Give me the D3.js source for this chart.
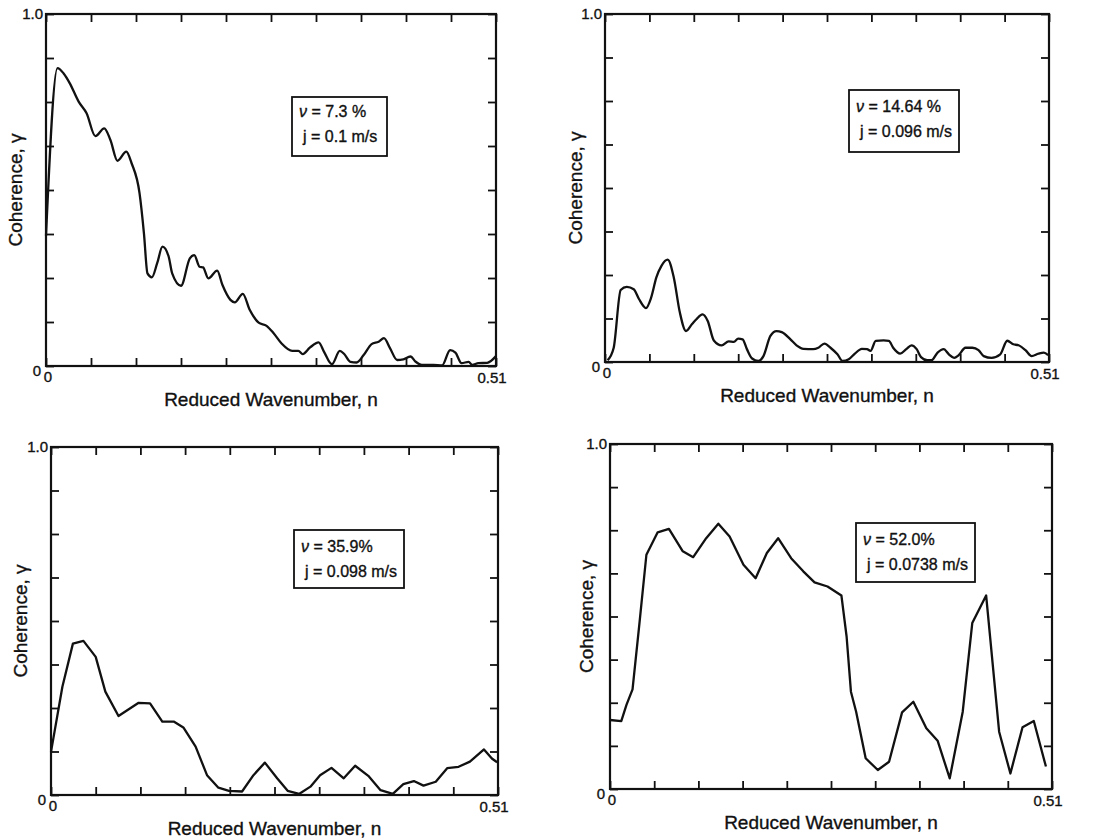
<!DOCTYPE html>
<html>
<head>
<meta charset="utf-8">
<script src="https://cdn.jsdelivr.net/npm/d3@7"></script>
<style>
  body { margin: 0; background: #fff; }
  svg { display: block; font-family: "Liberation Sans", Arial, sans-serif; }
  svg text { stroke: #111; stroke-width: 0.35px; }
</style>
</head>
<body>
<svg id="chart" width="1109" height="839"></svg>
<script>
// Coherence vs reduced wavenumber
const n1 = [0, 0.013, 0.020, 0.027, 0.037, 0.046, 0.056, 0.066, 0.073, 0.081, 0.091, 0.097, 0.106, 0.111, 0.115, 0.120,
  0.126, 0.132, 0.139, 0.143, 0.153, 0.163, 0.168, 0.174, 0.178, 0.184, 0.194, 0.200, 0.209, 0.214, 0.223, 0.231,
  0.241, 0.250, 0.258, 0.267, 0.279, 0.286, 0.291, 0.299, 0.309, 0.315, 0.324, 0.333, 0.338, 0.345, 0.352, 0.360,
  0.369, 0.377, 0.383, 0.390, 0.398, 0.405, 0.413, 0.419, 0.426, 0.439, 0.449, 0.458, 0.464, 0.471, 0.479, 0.483,
  0.490, 0.500, 0.510];
const coh1 = [0.37, 0.846, 0.831, 0.803, 0.751, 0.718, 0.653, 0.675, 0.642, 0.583, 0.609, 0.576, 0.491, 0.377, 0.263, 0.252,
  0.292, 0.339, 0.311, 0.263, 0.228, 0.306, 0.315, 0.282, 0.280, 0.249, 0.271, 0.230, 0.188, 0.181, 0.205, 0.159,
  0.123, 0.114, 0.093, 0.064, 0.043, 0.043, 0.034, 0.052, 0.067, 0.041, 0.005, 0.043, 0.034, 0.012, 0.010, 0.031,
  0.062, 0.069, 0.079, 0.050, 0.017, 0.019, 0.027, 0.012, 0.003, 0.003, 0.002, 0.045, 0.038, 0.008, 0.012, 0.003,
  0.008, 0.009, 0.028];

const n2 = [0.003, 0.010, 0.018, 0.025, 0.033, 0.039, 0.047, 0.053, 0.059, 0.065, 0.072, 0.079, 0.086, 0.093, 0.100, 0.105,
  0.112, 0.118, 0.125, 0.134, 0.142, 0.148, 0.153, 0.158, 0.163, 0.169, 0.176, 0.182, 0.190, 0.197, 0.203, 0.213,
  0.220, 0.228, 0.239, 0.245, 0.252, 0.259, 0.267, 0.273, 0.280, 0.287, 0.295, 0.301, 0.305, 0.311, 0.320, 0.326,
  0.331, 0.339, 0.346, 0.352, 0.358, 0.363, 0.370, 0.375, 0.382, 0.389, 0.395, 0.401, 0.406, 0.414, 0.422, 0.429,
  0.435, 0.444, 0.454, 0.462, 0.469, 0.475, 0.483, 0.490, 0.498, 0.504, 0.509];
const coh2 = [0.005, 0.041, 0.207, 0.216, 0.209, 0.181, 0.155, 0.185, 0.243, 0.277, 0.294, 0.243, 0.142, 0.089, 0.109, 0.123,
  0.137, 0.118, 0.062, 0.048, 0.059, 0.058, 0.067, 0.065, 0.037, 0.010, 0.003, 0.017, 0.075, 0.089, 0.086, 0.065,
  0.048, 0.038, 0.037, 0.041, 0.053, 0.041, 0.022, 0.003, 0.008, 0.024, 0.038, 0.037, 0.032, 0.061, 0.062, 0.061,
  0.041, 0.024, 0.037, 0.048, 0.037, 0.014, 0.005, 0.005, 0.027, 0.037, 0.022, 0.012, 0.019, 0.041, 0.041, 0.034,
  0.017, 0.012, 0.022, 0.061, 0.051, 0.048, 0.034, 0.017, 0.024, 0.027, 0.020];

const n3 = [0, 0.013, 0.025, 0.037, 0.051, 0.062, 0.077, 0.100, 0.113, 0.127, 0.140, 0.151, 0.165, 0.178, 0.191, 0.203,
  0.218, 0.231, 0.244, 0.258, 0.270, 0.283, 0.296, 0.307, 0.320, 0.334, 0.347, 0.362, 0.376, 0.390, 0.402, 0.414,
  0.425, 0.439, 0.452, 0.465, 0.478, 0.494, 0.503, 0.509];
const coh3 = [0.124, 0.311, 0.435, 0.443, 0.397, 0.297, 0.227, 0.265, 0.263, 0.211, 0.211, 0.194, 0.139, 0.057, 0.021, 0.012,
  0.010, 0.057, 0.093, 0.048, 0.012, 0.003, 0.024, 0.057, 0.078, 0.048, 0.084, 0.055, 0.014, 0.003, 0.031, 0.040,
  0.027, 0.038, 0.077, 0.081, 0.096, 0.131, 0.105, 0.094];

const n4 = [0, 0.013, 0.019, 0.026, 0.034, 0.042, 0.055, 0.068, 0.084, 0.096, 0.111, 0.125, 0.138, 0.154, 0.168, 0.181,
  0.194, 0.209, 0.223, 0.236, 0.251, 0.267, 0.273, 0.278, 0.284, 0.295, 0.309, 0.322, 0.337, 0.350, 0.365, 0.378,
  0.392, 0.407, 0.418, 0.434, 0.449, 0.462, 0.476, 0.489, 0.503];
const coh4 = [0.200, 0.197, 0.244, 0.289, 0.481, 0.679, 0.744, 0.754, 0.689, 0.672, 0.727, 0.769, 0.732, 0.650, 0.611, 0.684,
  0.727, 0.669, 0.631, 0.599, 0.587, 0.561, 0.442, 0.282, 0.224, 0.089, 0.055, 0.079, 0.222, 0.253, 0.176, 0.140,
  0.031, 0.224, 0.481, 0.561, 0.166, 0.045, 0.179, 0.197, 0.065];

const voidFraction = ["7.3 %", "14.64 %", "35.9%", "52.0%"];
const fluxJ = ["0.1 m/s", "0.096 m/s", "0.098 m/s", "0.0738 m/s"];

const xTicks = [0, 0.051, 0.102, 0.153, 0.204, 0.255, 0.306, 0.357, 0.408, 0.459, 0.51];
const yTicks = [0, 0.125, 0.25, 0.375, 0.5, 0.625, 0.75, 0.875, 1];
const xEndLabels = ["0", "0.51"];
const yEndLabels = ["0", "1.0"];

const ink = "#111";
const svg = d3.select("#chart");

const panels = [
  { left: 46, right: 496, top: 14, bottom: 366, n: n1, coh: coh1, smooth: true,
    box: { x: 292, y: 97, w: 95, h: 59, dy: 20 }, ylabX: 15 },
  { left: 605, right: 1049, top: 14, bottom: 362, n: n2, coh: coh2, smooth: true,
    box: { x: 849, y: 90, w: 110, h: 62, dy: 22 }, ylabX: 575 },
  { left: 51, right: 498, top: 447, bottom: 795, n: n3, coh: coh3, smooth: false,
    box: { x: 294, y: 530, w: 110, h: 58, dy: 22 }, ylabX: 20 },
  { left: 610, right: 1052, top: 444, bottom: 789, n: n4, coh: coh4, smooth: false,
    box: { x: 856, y: 523, w: 119, h: 59, dy: 22 }, ylabX: 586 }
];

panels.forEach((p, i) => {
  const x = d3.scaleLinear().domain([0, 0.51]).range([p.left, p.right]);
  const y = d3.scaleLinear().domain([0, 1]).range([p.bottom, p.top]);
  const g = svg.append("g");

  // inward ticks on all four sides
  const sides = [
    [d3.axisBottom(x), `translate(0,${p.bottom})`, xTicks],
    [d3.axisTop(x), `translate(0,${p.top})`, xTicks],
    [d3.axisLeft(y), `translate(${p.left},0)`, yTicks],
    [d3.axisRight(y), `translate(${p.right},0)`, yTicks]
  ];
  sides.forEach(([axis, tr, vals]) => {
    const a = g.append("g")
      .attr("transform", tr)
      .call(axis.tickValues(vals).tickSizeInner(-8).tickSizeOuter(0).tickFormat(""));
    a.select(".domain").remove();
    a.selectAll("line").attr("stroke", ink).attr("stroke-width", 1.8);
  });

  // frame
  g.append("rect")
    .attr("x", x(0)).attr("y", y(1))
    .attr("width", x(0.51) - x(0)).attr("height", y(0) - y(1))
    .attr("fill", "none").attr("stroke", ink).attr("stroke-width", 2.2);

  // curve
  const line = d3.line()
    .x(d => x(d[0]))
    .y(d => y(d[1]))
    .curve(p.smooth ? d3.curveMonotoneX : d3.curveLinear);

  g.append("path")
    .datum(d3.zip(p.n, p.coh))
    .attr("fill", "none")
    .attr("stroke", ink)
    .attr("stroke-width", 2.3)
    .attr("stroke-linejoin", "round")
    .attr("d", line);

  // end labels on the axes
  const lab = g.append("g").attr("fill", ink).attr("font-size", 15);
  lab.append("text").attr("x", x(0) - 3).attr("y", y(1) + 5)
    .attr("text-anchor", "end").text(yEndLabels[1]);
  lab.append("text").attr("x", x(0) - 5).attr("y", y(0) + 10)
    .attr("text-anchor", "end").text(yEndLabels[0]);
  lab.append("text").attr("x", x(0) + 2).attr("y", y(0) + 16)
    .attr("text-anchor", "middle").text(xEndLabels[0]);
  lab.append("text").attr("x", x(0.51) - 4).attr("y", y(0) + 17)
    .attr("text-anchor", "middle").text(xEndLabels[1]);

  // axis titles
  g.append("text")
    .attr("x", (x(0) + x(0.51)) / 2)
    .attr("y", y(0) + 40)
    .attr("text-anchor", "middle")
    .attr("font-size", 19)
    .attr("fill", ink)
    .text("Reduced Wavenumber, n");

  g.append("text")
    .attr("transform", `translate(${p.ylabX},${(y(0) + y(1)) / 2}) rotate(-90)`)
    .attr("text-anchor", "middle")
    .attr("dy", "0.35em")
    .attr("font-size", 19)
    .attr("fill", ink)
    .text("Coherence, γ");

  // legend box
  const b = p.box;
  g.append("rect")
    .attr("x", b.x).attr("y", b.y).attr("width", b.w).attr("height", b.h)
    .attr("fill", "#fff").attr("stroke", ink).attr("stroke-width", 1.8);

  const t1 = g.append("text")
    .attr("x", b.x + 7).attr("y", b.y + b.dy)
    .attr("font-size", 16).attr("fill", ink);
  t1.append("tspan").attr("font-style", "italic").text("ν");
  t1.append("tspan").text(" = " + voidFraction[i]);

  g.append("text")
    .attr("x", b.x + 11).attr("y", b.y + b.dy + 25)
    .attr("font-size", 16).attr("fill", ink)
    .text("j = " + fluxJ[i]);
});
</script>
</body>
</html>
